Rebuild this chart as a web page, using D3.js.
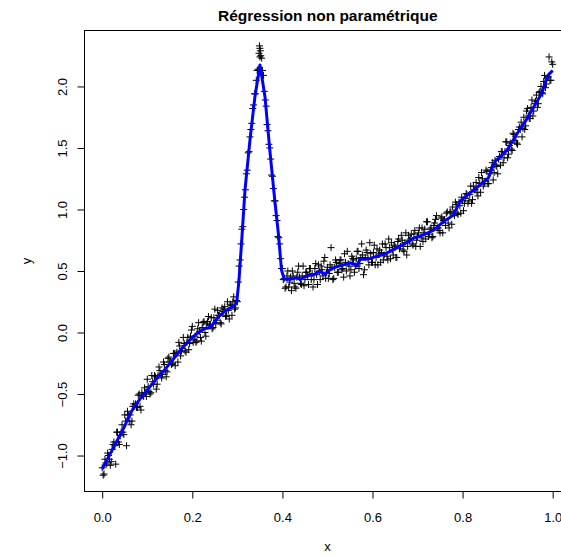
<!DOCTYPE html>
<html><head><meta charset="utf-8">
<script src="https://cdn.jsdelivr.net/npm/d3@7"></script>
<style>body{margin:0;background:#fff}svg{display:block}text{font-family:"Liberation Sans",Arial,sans-serif}</style>
</head><body>
<script>
// Scatter points (x, y)
const pointsX = [
0,.004,.008,.012,.016,.02,.024,.028,.032,.036,.04,.044,.048,.052,.056,.06,.064,.068,.072,.076,.08,.084,.088,.092,.096,
.1,.104,.108,.112,.116,.12,.124,.128,.132,.136,.14,.144,.148,.152,.156,.16,.164,.168,.172,.176,.18,.184,.188,.192,.196,
.2,.204,.208,.212,.216,.22,.224,.228,.232,.236,.24,.244,.248,.252,.256,.26,.264,.268,.272,.276,.28,.284,.288,.292,.296,
.298,.3,.302,.304,.306,.308,.31,.312,.314,.316,.318,.32,.322,.324,.326,.328,.33,.332,.334,.336,.338,.34,.342,.344,.346,.348,.35,.352,.354,.356,.358,.36,.362,.364,.366,.368,.37,.372,.374,.376,.378,.38,.382,.384,.386,.388,.39,.392,.394,.396,.398,.4,.402,.404,.406,
.349,.351,.350,
.408,.412,.416,.42,.424,.428,.432,.436,.44,.444,
.448,.452,.456,.46,.464,.468,.472,.476,.48,.484,
.488,.492,.496,.5,.504,.508,.512,.516,.52,.524,
.528,.532,.536,.54,.544,.548,.552,.556,.56,.564,
.568,.572,.576,.58,.584,.588,.592,.596,.6,.604,
.608,.612,.616,.62,.624,.628,.632,.636,.64,.644,
.648,.652,.656,.66,.664,.668,.672,.676,.68,.684,
.688,.692,.696,.7,.704,.708,.712,.716,.72,.724,
.728,.732,.736,.74,.744,.748,.752,.756,.76,.764,
.768,.772,.776,.78,.784,.788,.792,.796,.8,.804,
.808,.812,.816,.82,.824,.828,.832,.836,.84,.844,
.848,.852,.856,.86,.864,.868,.872,.876,.88,.884,
.888,.892,.896,.9,.904,.908,.912,.916,.92,.924,
.928,.932,.936,.94,.944,.948,.952,.956,.96,.964,
.968,.972,.976,.98,.984,.988,.992,.996,1,
.002,.006,.01,.014,.018,.022,.026,.03,.034,.038,.042,.046,.05,.054,.058,.062,.066,.07,.074,.078,.082,.086,.09,.094,.098,
.102,.106,.11,.114,.118,.122,.126,.13,.134,.138,.142,.146,.15,.154,.158,.162,.166,.17,.174,.178,.182,.186,.19,.194,.198,
.202,.206,.21,.214,.218,.222,.226,.23,.234,.238,.242,.246,.25,.254,.258,.262,.266,.27,.274,.278,.282,.286,.29,.294,
.41,.414,.418,.422,.426,.43,.434,.438,.442,.446,
.45,.454,.458,.462,.466,.47,.474,.478,.482,.486,
.49,.494,.498,.502,.506,.51,.514,.518,.522,.526,
.53,.534,.538,.542,.546,.55,.554,.558,.562,.566,
.57,.574,.578,.582,.586,.59,.594,.598,.602,.606,
.61,.614,.618,.622,.626,.63,.634,.638,.642,.646,
.65,.654,.658,.662,.666,.67,.674,.678,.682,.686,
.69,.694,.698,.702,.706,.71,.714,.718,.722,.726,
.73,.734,.738,.742,.746,.75,.754,.758,.762,.766,
.77,.774,.778,.782,.786,.79,.794,.798,.802,.806,
.81,.814,.818,.822,.826,.83,.834,.838,.842,.846,
.85,.854,.858,.862,.866,.87,.874,.878,.882,.886,
.89,.894,.898,.902,.906,.91,.914,.918,.922,.926,
.93,.934,.938,.942,.946,.95,.954,.958,.962,.966,
.97,.974,.978,.982,.986,.99,.994,.998
];
const pointsY = [
-1.10,-1.15,-1.06,-0.98,-1.03,-1.05,-0.91,-0.92,-0.81,-0.89,-0.84,-0.75,-0.83,-0.72,-0.64,-0.72,-0.75,-0.60,-0.60,-0.61,-0.51,-0.60,-0.49,-0.52,-0.49,
-0.38,-0.48,-0.49,-0.40,-0.35,-0.46,-0.35,-0.31,-0.37,-0.24,-0.31,-0.32,-0.20,-0.24,-0.25,-0.17,-0.17,-0.24,-0.11,-0.15,-0.04,-0.15,-0.08,-0.14,-0.03,
0.05,-0.06,-0.08,0.03,0.01,-0.07,0.08,0.00,0.07,0.13,0.06,0.03,0.12,0.07,0.18,0.14,0.07,0.17,0.21,0.14,0.18,0.23,0.14,0.29,0.20,
0.26,0.25,0.41,0.54,0.59,0.72,0.84,0.86,1.00,1.10,1.16,1.29,1.32,1.46,1.47,1.59,1.65,1.70,1.82,1.85,1.94,1.94,2.05,2.13,2.14,2.27,2.31,2.25,2.23,2.13,2.09,1.96,1.89,1.84,1.69,1.64,1.53,1.50,1.41,1.28,1.27,1.17,1.07,1.07,0.95,0.91,0.78,0.77,0.72,0.60,0.52,0.52,0.43,0.44,0.36,
2.33,2.29,2.24,
0.37,0.50,0.41,0.34,0.46,0.37,0.45,0.54,0.40,0.46,
0.38,0.49,0.46,0.52,0.43,0.37,0.52,0.47,0.55,0.43,
0.51,0.58,0.44,0.53,0.48,0.69,0.43,0.53,0.57,0.49,
0.59,0.51,0.45,0.57,0.66,0.54,0.51,0.60,0.49,0.60,
0.66,0.56,0.72,0.47,0.61,0.65,0.55,0.64,0.57,0.71,
0.61,0.55,0.67,0.65,0.59,0.72,0.62,0.76,0.60,0.67,
0.71,0.61,0.74,0.68,0.79,0.67,0.73,0.63,0.79,0.76,
0.72,0.80,0.70,0.78,0.85,0.77,0.74,0.84,0.90,0.78,
0.84,0.77,0.87,0.92,0.85,0.83,0.93,0.81,0.92,0.97,
0.89,0.98,0.88,0.97,1.06,0.97,1.06,0.97,1.07,1.05,
1.13,1.05,1.12,1.05,1.19,1.16,1.14,1.26,1.14,1.25,
1.21,1.32,1.21,1.29,1.34,1.24,1.40,1.35,1.41,1.36,
1.47,1.42,1.55,1.42,1.52,1.49,1.62,1.56,1.54,1.65,
1.65,1.59,1.75,1.68,1.82,1.74,1.83,1.76,1.86,1.93,
1.86,1.96,1.95,2.04,1.99,2.07,2.24,2.05,2.18,
-1.16,-1.03,-1.07,-1.00,-1.08,-0.95,-0.89,-1.07,-0.81,-0.91,-0.81,-0.81,-0.67,-0.92,-0.67,-0.67,-0.72,-0.58,-0.58,-0.61,-0.50,-0.63,-0.51,-0.45,-0.52,
-0.44,-0.50,-0.35,-0.42,-0.36,-0.42,-0.28,-0.34,-0.34,-0.26,-0.36,-0.21,-0.24,-0.26,-0.17,-0.27,-0.16,-0.08,-0.19,-0.13,-0.09,-0.16,-0.04,-0.09,0.02,
-0.08,-0.03,-0.07,0.08,-0.04,0.04,0.09,-0.03,0.09,0.06,0.12,0.04,0.19,0.10,0.14,0.08,0.20,0.19,0.13,0.25,0.11,0.22,0.25,0.19,
0.46,0.37,0.45,0.50,0.40,0.36,0.49,0.45,0.39,0.54,
0.43,0.49,0.39,0.52,0.48,0.43,0.56,0.39,0.50,0.54,
0.46,0.61,0.49,0.44,0.55,0.53,0.44,0.59,0.49,0.56,
0.59,0.52,0.64,0.50,0.56,0.46,0.62,0.59,0.54,0.66,
0.52,0.61,0.63,0.51,0.67,0.60,0.73,0.57,0.65,0.55,
0.68,0.64,0.57,0.72,0.63,0.69,0.59,0.69,0.73,0.63,
0.70,0.61,0.76,0.70,0.75,0.66,0.81,0.70,0.75,0.80,
0.71,0.83,0.75,0.81,0.70,0.85,0.81,0.76,0.90,0.80,
0.85,0.78,0.89,0.95,0.85,0.81,0.94,0.91,0.87,0.98,
0.85,0.98,1.02,0.95,1.04,0.96,1.03,1.10,0.99,1.09,
1.12,1.07,1.19,1.08,1.16,1.22,1.11,1.21,1.30,1.19,
1.23,1.31,1.21,1.32,1.38,1.30,1.36,1.29,1.43,1.47,
1.38,1.47,1.55,1.45,1.54,1.48,1.61,1.59,1.53,1.67,
1.71,1.66,1.65,1.80,1.76,1.74,1.89,1.80,1.88,1.83,
1.95,2.00,1.94,2.09,2.02,2.08,2.05,2.20
];
// Nonparametric fit (blue curve)
const fitX = [0,.01,.02,.03,.04,.05,.058,.07,.08,.09,.1,.106,.115,.127,.137,.147,.157,.167,.177,.1875,.197,.208,.218,.228,.235,.245,.258,.268,.28,.29,.295,.299,.3035,.3097,.317,.328,.339,.3503,.3613,.372,.383,.391,.398,.4035,.41,.42,.432,.44,.447,.454,.462,.47,.476,.483,.49,.4945,.505,.52,.535,.55,.56,.565,.572,.58,.594,.605,.62,.631,.645,.658,.668,.68,.69,.7,.71,.72,.735,.745,.757,.77,.779,.787,.794,.805,.818,.831,.845,.857,.865,.872,.885,.898,.91,.92,.93,.94,.95,.962,.976,.985,.992,1];
const fitY = [-1.11,-1.04,-0.97,-0.90,-0.83,-0.76,-0.69,-0.61,-0.56,-0.51,-0.47,-0.44,-0.40,-0.35,-0.31,-0.265,-0.22,-0.175,-0.13,-0.088,-0.05,-0.015,0.01,0.035,0.035,0.065,0.128,0.16,0.19,0.21,0.225,0.26,0.42,0.75,1.16,1.565,1.917,2.175,1.917,1.484,1.077,0.806,0.508,0.44,0.43,0.435,0.445,0.43,0.45,0.455,0.47,0.47,0.485,0.50,0.48,0.475,0.51,0.535,0.55,0.567,0.555,0.54,0.595,0.595,0.60,0.615,0.63,0.645,0.67,0.70,0.715,0.74,0.765,0.78,0.79,0.805,0.83,0.86,0.90,0.93,0.955,1.01,1.065,1.10,1.14,1.175,1.22,1.255,1.33,1.39,1.435,1.48,1.55,1.61,1.67,1.72,1.785,1.86,1.945,2.05,2.10,2.13];
const xTicks = [0, 0.2, 0.4, 0.6, 0.8, 1.0];
const yTicks = [-1.0, -0.5, 0.0, 0.5, 1.0, 1.5, 2.0];
const titleText = "Régression non paramétrique";
const xLabel = "x", yLabel = "y";

const W = 561, H = 557;
const svg = d3.select("body").append("svg").attr("width", W).attr("height", H);
const x = d3.scaleLinear().domain([-0.04, 1.04]).range([84.2, 570.7]);
const y = d3.scaleLinear().domain([-1.294, 2.459]).range([491.7, 30]);

svg.append("defs").append("clipPath").attr("id","clip")
  .append("rect").attr("x",84.2).attr("y",30).attr("width",486.5).attr("height",461.7);
const g = svg.append("g").attr("clip-path","url(#clip)");

const n = Math.min(pointsX.length, pointsY.length);
const pts = d3.range(n).map(i=>[pointsX[i], pointsY[i]]);
g.append("path")
  .attr("d", pts.map(p=>{const px=x(p[0]), py=y(p[1]); return `M${px-3.5},${py}h7M${px},${py-3.5}v7`;}).join(""))
  .attr("stroke","#000").attr("stroke-width",1).attr("fill","none");

const fit = fitX.map((v,i)=>[v, fitY[i]]);
g.append("path").datum(fit)
  .attr("d", d3.line().x(d=>x(d[0])).y(d=>y(d[1])))
  .attr("stroke","#0000ff").attr("stroke-width",3).attr("fill","none").attr("stroke-linejoin","round");

// box
svg.append("rect").attr("x",84.5).attr("y",30.5).attr("width",486).attr("height",461)
  .attr("fill","none").attr("stroke","#000").attr("stroke-width",1);

// x axis
const xa = svg.append("g").attr("transform","translate(0,491.5)")
  .call(d3.axisBottom(x).tickValues(xTicks).tickFormat(d3.format(".1f")).tickSizeInner(7).tickSizeOuter(0).tickPadding(14));
xa.select(".domain").remove();
xa.selectAll("text").attr("font-size",13).attr("fill","#000").attr("font-family","Liberation Sans, Arial, sans-serif");

// y axis
const ya = svg.append("g").attr("transform","translate(84.5,0)")
  .call(d3.axisLeft(y).tickValues(yTicks).tickFormat(d3.format(".1f")).tickSizeInner(7).tickSizeOuter(0));
ya.select(".domain").remove();
ya.selectAll("text").remove();
ya.selectAll(".tick").append("text")
  .attr("transform","translate(-22,0) rotate(-90)")
  .attr("text-anchor","middle").attr("dy","0.35em")
  .attr("font-size",13).attr("fill","#000")
  .text(d=>d3.format(".1f")(d).replace("-","\u2212"));

svg.append("text").attr("x",327.8).attr("y",20.5).attr("text-anchor","middle")
  .attr("font-weight","bold").attr("font-size",15.5).text(titleText);
svg.append("text").attr("x",327.5).attr("y",551).attr("text-anchor","middle")
  .attr("font-size",13).text(xLabel);
svg.append("text").attr("transform","translate(31,261) rotate(-90)").attr("text-anchor","middle")
  .attr("font-size",13).text(yLabel);
</script>
</body></html>
